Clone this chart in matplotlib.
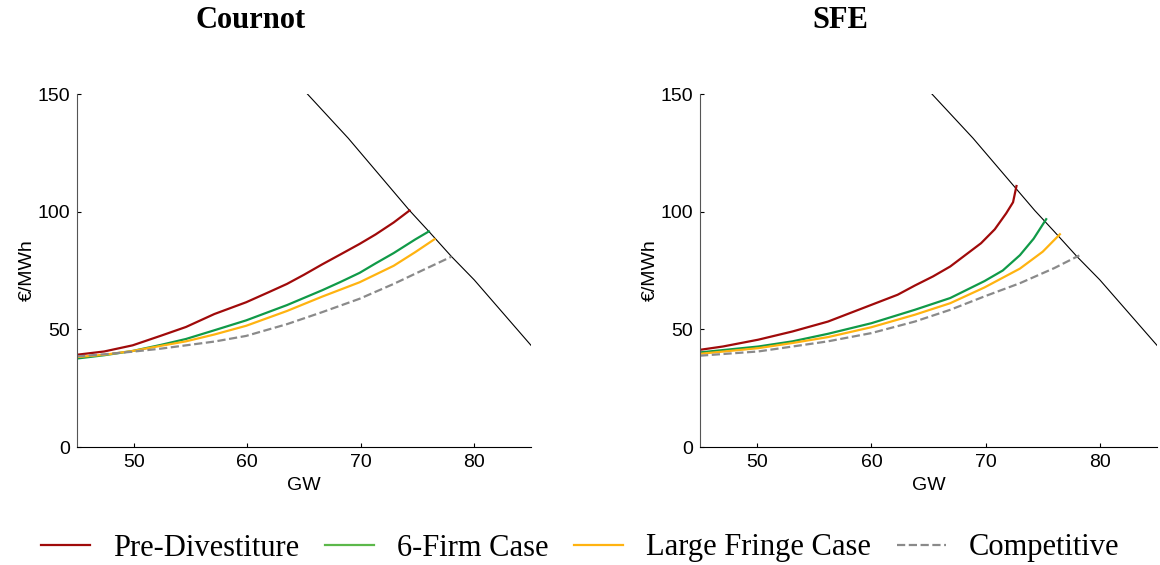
import matplotlib
matplotlib.use("Agg")
import matplotlib.pyplot as plt
import numpy as np

plt.rcParams['font.family'] = ['Liberation Sans', 'DejaVu Sans']

# demand curve (shared by both panels)
demand_gw = [65.3, 68.9, 74.3, 76.0, 78.0, 80.0, 85.0]
demand_price = [150, 131.2, 100.5, 91.6, 80.9, 71.0, 43.2]

# Cournot panel
cournot_pre_gw = [45.0, 47.4, 49.9, 52.4, 54.6, 57.1, 59.9, 61.9, 63.5, 65.0, 66.6, 68.2, 69.9, 71.3, 72.9, 74.3]
cournot_pre = [39.2, 40.6, 43.2, 47.3, 51.0, 56.5, 61.5, 65.8, 69.3, 73.2, 77.6, 81.8, 86.3, 90.3, 95.4, 100.5]
cournot_6f_gw = [45.0, 47.4, 49.9, 52.4, 54.6, 57.1, 59.9, 63.5, 66.6, 68.2, 69.9, 71.3, 72.9, 74.8, 76.0]
cournot_6f = [37.6, 39.0, 40.8, 43.4, 45.9, 49.6, 53.8, 60.3, 66.6, 70.1, 74.0, 78.0, 82.4, 88.2, 91.6]
cournot_lf_gw = [45.0, 47.4, 49.9, 52.4, 54.6, 57.1, 59.9, 63.5, 66.6, 69.9, 72.9, 74.8, 76.5]
cournot_lf = [38.2, 39.2, 40.8, 43.0, 44.9, 47.8, 51.5, 57.8, 63.9, 70.0, 77.0, 82.8, 88.3]
cournot_comp_gw = [45.0, 47.4, 49.9, 52.4, 54.6, 57.1, 59.9, 63.5, 66.6, 69.9, 72.9, 75.4, 78.0]
cournot_comp = [38.5, 39.4, 40.5, 41.8, 43.2, 44.8, 47.2, 52.2, 57.3, 63.0, 69.3, 75.0, 80.9]

# SFE panel
sfe_pre_gw = [45.0, 47.0, 50.1, 53.1, 56.2, 60.0, 62.3, 63.8, 65.4, 66.9, 68.4, 69.6, 70.8, 71.8, 72.4, 72.7]
sfe_pre = [41.3, 42.7, 45.6, 49.1, 53.3, 60.4, 64.7, 68.6, 72.5, 76.7, 82.2, 86.6, 92.5, 99.3, 104.0, 110.9]
sfe_6f_gw = [45.0, 50.1, 53.1, 56.2, 60.0, 63.8, 66.9, 69.9, 71.5, 73.0, 74.2, 75.3]
sfe_6f = [40.2, 42.7, 44.9, 48.1, 52.6, 58.3, 63.3, 70.5, 75.0, 81.5, 88.5, 96.8]
sfe_lf_gw = [45.0, 50.1, 53.1, 56.2, 60.0, 63.8, 66.9, 69.9, 73.0, 75.0, 76.5]
sfe_lf = [39.6, 42.0, 44.2, 46.7, 50.9, 56.2, 61.1, 67.8, 75.8, 83.0, 90.4]
sfe_comp_gw = [45.0, 50.1, 53.1, 56.2, 60.0, 63.8, 66.9, 69.9, 73.0, 76.0, 78.2]
sfe_comp = [38.8, 40.6, 42.7, 44.9, 48.4, 53.3, 58.3, 64.0, 69.6, 76.0, 81.4]

labels = ['Pre-Divestiture', '6-Firm Case', 'Large Fringe Case', 'Competitive']
colors = ['#a00a0a', '#109a48', '#ffb310', '#8a8a8a']
styles = ['-', '-', '-', '--']
titles = ['Cournot', 'SFE']

panels = [
    [(cournot_pre_gw, cournot_pre), (cournot_6f_gw, cournot_6f),
     (cournot_lf_gw, cournot_lf), (cournot_comp_gw, cournot_comp)],
    [(sfe_pre_gw, sfe_pre), (sfe_6f_gw, sfe_6f),
     (sfe_lf_gw, sfe_lf), (sfe_comp_gw, sfe_comp)],
]

fig = plt.figure(figsize=(11.6, 5.65), dpi=100)
ax_left = fig.add_axes([77/1160, 1-447/565, 454/1160, 353/565])
ax_right = fig.add_axes([700/1160, 1-447/565, 457/1160, 353/565])
title_x = [251/1160, 840/1160]

handles = []
for k, ax in enumerate([ax_left, ax_right]):
    ax.plot(demand_gw, demand_price, color='black', lw=0.8)
    for (gw, price), lab, c, ls in zip(panels[k], labels, colors, styles):
        ln, = ax.plot(gw, price, color=c, ls=ls, lw=1.6, label=lab)
        if k == 0:
            handles.append(ln)
    ax.set_xlim(45, 85)
    ax.set_ylim(0, 150)
    ax.set_xticks([50, 60, 70, 80])
    ax.set_yticks([0, 50, 100, 150])
    ax.spines['top'].set_visible(False)
    ax.spines['right'].set_visible(False)
    ax.spines['left'].set_color('#555555')
    ax.tick_params(direction='in', length=3, labelsize=14, pad=5)
    ax.set_xlabel('GW', fontsize=14, labelpad=4)
    ax.set_ylabel('€/MWh', fontsize=14, labelpad=1)
    fig.text(title_x[k], 1-21/565, titles[k], ha='center', va='center',
             fontsize=22, fontweight='bold', family='Liberation Serif')

leg = fig.legend(handles=handles, loc='center', bbox_to_anchor=(0.5, 1-548/565),
                 ncol=4, frameon=False, prop={'family': 'Liberation Serif', 'size': 22},
                 handlelength=1.6, handletextpad=0.75, columnspacing=0.85)
leg.get_lines()[1].set_color('#5cb84a')

fig.savefig('out.png', dpi=100)
